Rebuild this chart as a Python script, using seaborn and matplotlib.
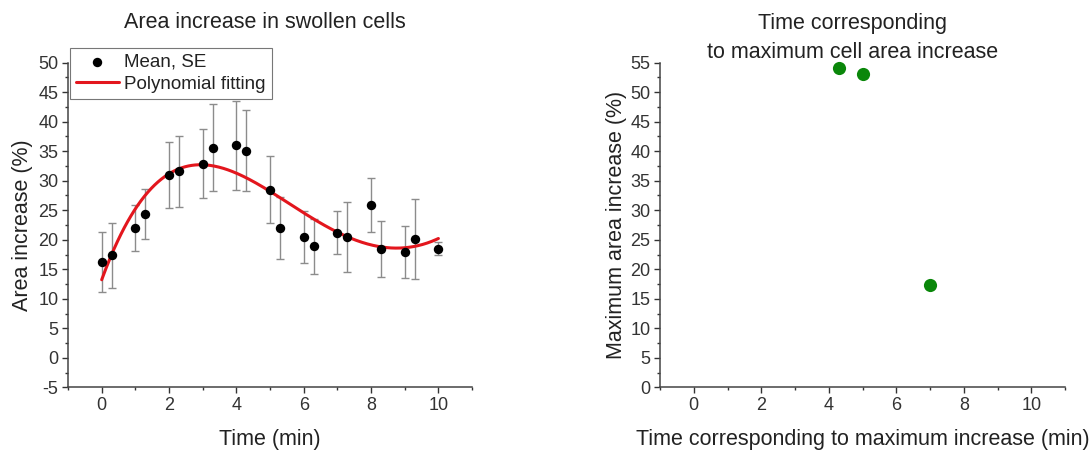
import numpy as np
import pandas as pd
import matplotlib
matplotlib.use("Agg")
import matplotlib.pyplot as plt
from matplotlib.ticker import MultipleLocator, AutoMinorLocator
import seaborn as sns

# ---- data ----
time_min = [0, 0.3, 1, 1.3, 2, 2.3, 3, 3.3, 4, 4.3, 5, 5.3, 6, 6.3, 7, 7.3, 8, 8.3, 9, 9.3, 10]
area_mean = [16.2, 17.4, 22.0, 24.4, 31.0, 31.6, 32.9, 35.6, 36.0, 35.1, 28.5, 22.0, 20.4,
             18.9, 21.2, 20.5, 25.9, 18.4, 18.0, 20.1, 18.5]
area_se = [5.1, 5.5, 3.9, 4.2, 5.6, 6.0, 5.9, 7.4, 7.5, 6.8, 5.6, 5.3, 4.4,
           4.7, 3.6, 5.9, 4.55, 4.7, 4.4, 6.8, 1.05]
fit_degree = 4

max_time = [4.3, 5.0, 7.0]
max_increase = [54.0, 53.1, 17.3]

sns.set_theme(style="ticks")
plt.rcParams['font.family'] = ['Liberation Sans', 'DejaVu Sans']
plt.rcParams['axes.unicode_minus'] = False
TXT = '#222222'
plt.rcParams['text.color'] = TXT
plt.rcParams['axes.labelcolor'] = TXT
plt.rcParams['xtick.color'] = '#333333'
plt.rcParams['ytick.color'] = '#333333'

fig = plt.figure(figsize=(10.92, 4.5), dpi=100)
ax1 = fig.add_axes([0.0623, 0.139, 0.370, 0.722])
ax2 = fig.add_axes([0.6044, 0.139, 0.3709, 0.722])

df = pd.DataFrame({"t": time_min, "m": area_mean, "se": area_se})

# error bars
ax1.errorbar(df["t"], df["m"], yerr=df["se"], fmt='none', ecolor='#8c8c8c',
             elinewidth=1.0, capsize=3, capthick=1.0, zorder=2)
sns.scatterplot(data=df, x="t", y="m", ax=ax1, color='black', s=46, linewidth=0,
                label='Mean, SE', zorder=4)

coef = np.polyfit(df["t"], df["m"], fit_degree)
xf = np.linspace(min(time_min), max(time_min), 300)
fit_df = pd.DataFrame({"t": xf, "f": np.polyval(coef, xf)})
sns.lineplot(data=fit_df, x="t", y="f", ax=ax1, color='#e3161d', linewidth=2.2,
             label='Polynomial fitting', zorder=3)

ax1.set_xlim(-1, 11)
ax1.set_ylim(-5, 50)
ax1.xaxis.set_major_locator(MultipleLocator(2))
ax1.xaxis.set_minor_locator(AutoMinorLocator(2))
ax1.yaxis.set_major_locator(MultipleLocator(5))
ax1.yaxis.set_minor_locator(AutoMinorLocator(2))
ax1.set_xlabel("Time (min)", fontsize=15.5, labelpad=11)
ax1.set_ylabel("Area increase (%)", fontsize=15.5, labelpad=4)
ax1.set_title("Area increase in swollen cells", fontsize=15.5, x=0.488, pad=25)
leg = ax1.legend(loc='upper left', bbox_to_anchor=(0.005, 1.045), borderaxespad=0,
                 fontsize=13.5, labelspacing=0.28, borderpad=0.3, handlelength=2.3,
                 handletextpad=0.3, fancybox=False, framealpha=1, edgecolor='#777777')
leg.get_frame().set_linewidth(0.8)

# right panel
df2 = pd.DataFrame({"t": max_time, "m": max_increase})
sns.scatterplot(data=df2, x="t", y="m", ax=ax2, color='#0a870a', s=90, linewidth=0,
                zorder=3, clip_on=False)
ax2.set_xlim(-1, 11)
ax2.set_ylim(0, 55)
ax2.xaxis.set_major_locator(MultipleLocator(2))
ax2.xaxis.set_minor_locator(AutoMinorLocator(2))
ax2.yaxis.set_major_locator(MultipleLocator(5))
ax2.yaxis.set_minor_locator(AutoMinorLocator(2))
ax2.set_xlabel("Time corresponding to maximum increase (min)", fontsize=15.5, labelpad=11)
ax2.set_ylabel("Maximum area increase (%)", fontsize=15.5, labelpad=2)
ax2.set_title("Time corresponding\nto maximum cell area increase", fontsize=15.5,
              x=0.4765, pad=3, linespacing=1.5)

for ax in (ax1, ax2):
    sns.despine(ax=ax)
    for s in ('left', 'bottom'):
        ax.spines[s].set_linewidth(1.1)
        ax.spines[s].set_color('#444444')
    ax.tick_params(which='major', direction='out', length=4, width=1.0, labelsize=13, pad=3)
    ax.tick_params(which='minor', direction='out', length=2.5, width=1.0)

fig.savefig("out.png", dpi=100)
